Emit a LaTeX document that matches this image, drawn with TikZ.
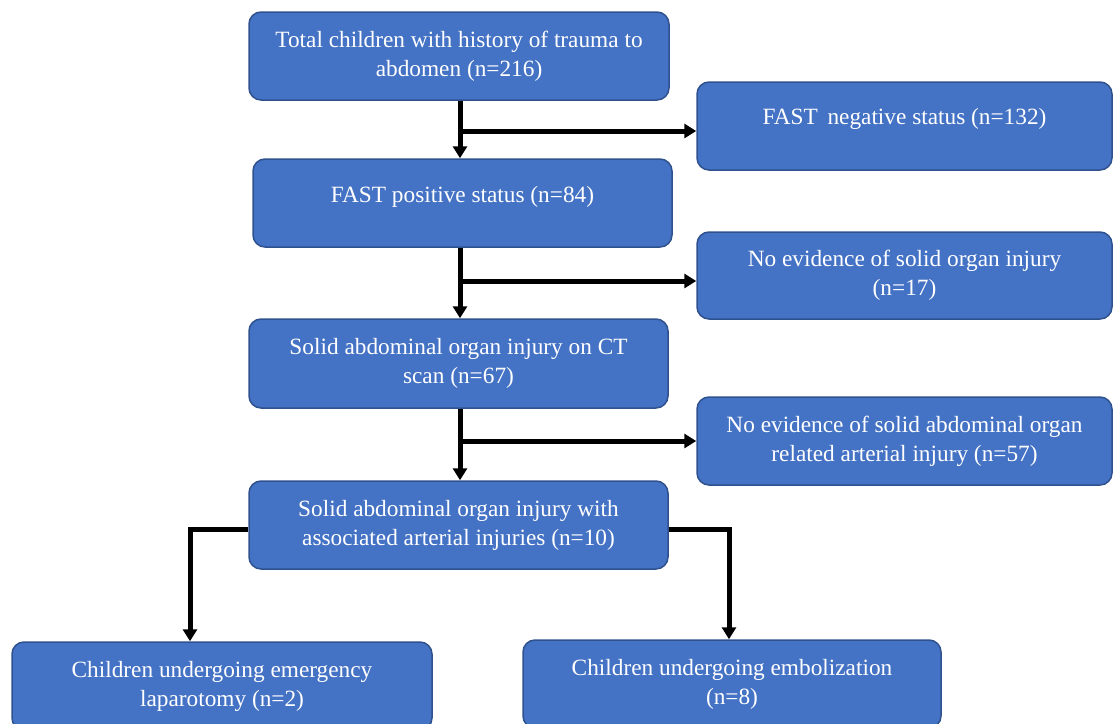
\documentclass[tikz,border=0pt]{standalone}
\usepackage{fontspec}
\setmainfont{Liberation Serif}
\usetikzlibrary{arrows.meta}
\definecolor{boxblue}{HTML}{4472C4}
\definecolor{boxedge}{HTML}{2F528F}
\begin{document}
\begin{tikzpicture}[x=1pt,y=-1pt,
  flowbox/.style={draw=boxedge, line width=1.5pt, fill=boxblue, rounded corners=12pt,
    text=white, align=center, font=\fontsize{23.3}{29}\selectfont, inner sep=0pt,
    minimum height=88pt},
  flowarrow/.style={line width=5pt, line join=miter, -{Triangle[width=14pt,length=12pt]}},
  ]
\useasboundingbox (0,0) rectangle (1113,723);
\node[flowbox, minimum width=420pt] (b1) at (459,56)
  {Total children with history of trauma to\\abdomen (n=216)};
\node[flowbox, minimum width=415pt, text depth=20pt] (b2) at (904.5,126)
  {FAST\, negative status (n=132)};
\node[flowbox, minimum width=419pt, text depth=17pt] (b3) at (462.5,203)
  {FAST positive status (n=84)};
\node[flowbox, minimum width=415pt, minimum height=87pt] (b4) at (904.5,275.5)
  {No evidence of solid organ injury\\(n=17)};
\node[flowbox, minimum width=419pt, minimum height=89pt] (b5) at (458.5,363.5)
  {Solid abdominal organ injury on CT\\scan (n=67)};
\node[flowbox, minimum width=415pt] (b6) at (904.5,441)
  {No evidence of solid abdominal organ\\related arterial injury (n=57)};
\node[flowbox, minimum width=419pt] (b7) at (458.5,525)
  {Solid abdominal organ injury with\\associated arterial injuries (n=10)};
\node[flowbox, minimum width=420pt] (b8) at (222,686)
  {Children undergoing emergency\\laparotomy (n=2)};
\node[flowbox, minimum width=418pt] (b9) at (732,684)
  {Children undergoing embolization\\(n=8)};
% connectors
\coordinate (s1) at (460,131);
\coordinate (s2) at (460,281);
\coordinate (s3) at (460,441);
\coordinate (l1) at (190,529);
\coordinate (r1) at (729,529);
\draw[flowarrow] (b1.south -| s1) -- (b3.north -| s1);
\draw[flowarrow] (s1) -- (s1 -| b2.west);
\draw[flowarrow] (b3.south -| s2) -- (b5.north -| s2);
\draw[flowarrow] (s2) -- (s2 -| b4.west);
\draw[flowarrow] (b5.south -| s3) -- (b7.north -| s3);
\draw[flowarrow] (s3) -- (s3 -| b6.west);
\draw[flowarrow] (l1 -| b7.west) -- (l1) -- (l1 |- b8.north);
\draw[flowarrow] (r1 -| b7.east) -- (r1) -- (r1 |- b9.north);
\end{tikzpicture}
\end{document}
